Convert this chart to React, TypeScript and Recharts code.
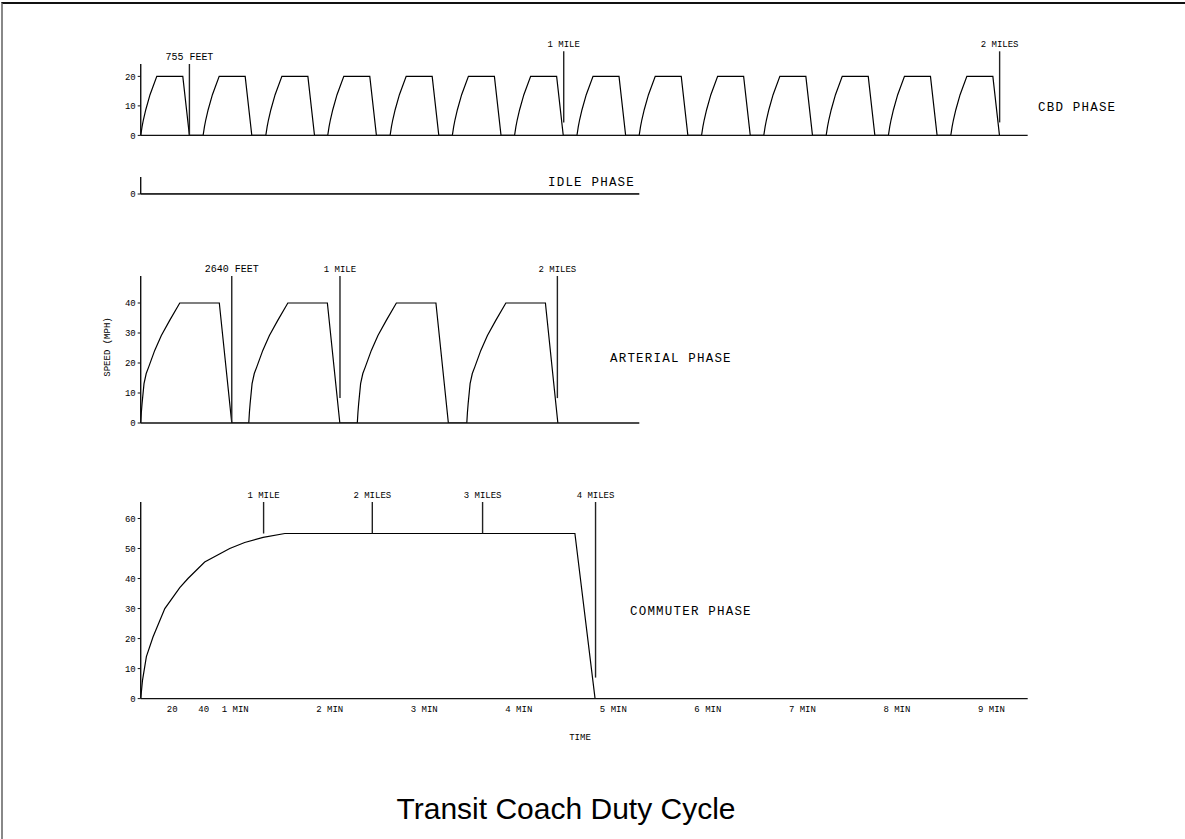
import { LineChart, Line, XAxis, YAxis, ReferenceLine } from 'recharts'

const PAGE_W = 1185
const PAGE_H = 839
const AXIS_X = 140.7
const FONT = '"Liberation Mono", "DejaVu Sans Mono", monospace'

// CBD phase: 14 stop-and-go cycles, 0-20 mph
const cbdStarts = [0, 39.6, 79.4, 118.7, 158.3, 197.8, 237.3, 276.9, 316.4, 356.0, 395.5, 435.1, 474.6, 514.2]
const cbdCycleTime = [0, 0.85, 1.7, 3.2, 5.9, 10.2, 26.7, 30.9]
const cbdCycleSpeed = [0, 3, 5.3, 8.7, 13.8, 20, 20, 0]
const cbdTicks = [0, 10, 20]
const cbdMarkerLabels = ['755 FEET', '1 MILE', '2 MILES']
const cbdMarkerTime = [30.9, 268.5, 545.2]
const cbdMarkerFrom = [0, 4.4, 4.4]
const cbdMarkerTo = [24.2, 28.5, 28.5]

// idle phase
const idleTime = [0, 316.5]
const idleSpeed = [0, 0]
const idleTicks = [0]

// arterial phase: 4 cycles, 0-40 mph
const arterialStarts = [0, 68.6, 137.5, 207.0]
const arterialCycleTime = [0, 0.4, 0.85, 2.1, 3.5, 5.1, 8.9, 13.1, 18.4, 24.8, 49.9, 57.8]
const arterialCycleSpeed = [0, 3.5, 6.4, 13.1, 16.5, 18.7, 24.2, 29.2, 34.2, 40, 40, 0]
const arterialTicks = [0, 10, 20, 30, 40]
const arterialMarkerLabels = ['2640 FEET', '1 MILE', '2 MILES']
const arterialMarkerTime = [57.8, 126.5, 264.5]
const arterialMarkerFrom = [0, 8.3, 8.3]
const arterialMarkerTo = [49, 49, 49]

// commuter phase: single run to 55 mph
const commuterTime = [0, 1.1, 3.6, 7.8, 15.3, 24.8, 30, 40.6, 56.5, 66, 77.7, 91.5, 275.6, 288.4]
const commuterSpeed = [0, 6, 14, 20.5, 30, 37, 40, 45.5, 50, 52, 53.7, 55, 55, 0]
const commuterTicks = [0, 10, 20, 30, 40, 50, 60]
const commuterMarkerLabels = ['1 MILE', '2 MILES', '3 MILES', '4 MILES']
const commuterMarkerTime = [78, 147, 217, 288.7]
const commuterMarkerFrom = [55, 55, 55, 7]
const commuterMarkerTo = [65.5, 65.5, 65.5, 65.5]

// time axis (seconds)
const timeTicks = [20, 40, 60, 120, 180, 240, 300, 360, 420, 480, 540]
const timeTickLabels = ['20', '40', '1 MIN', '2 MIN', '3 MIN', '4 MIN', '5 MIN', '6 MIN', '7 MIN', '8 MIN', '9 MIN']

type Pt = { t: number; v: number }
type Marker = { label: string; t: number; from: number; to: number }

function zip(ts: number[], vs: number[]): Pt[] {
  return ts.map((t, i) => ({ t, v: vs[i] }))
}

function cycles(starts: number[], ts: number[], vs: number[]): Pt[] {
  const out: Pt[] = []
  starts.forEach((s) => ts.forEach((dt, i) => out.push({ t: +(s + dt).toFixed(2), v: vs[i] })))
  return out
}

function markers(labels: string[], at: number[], from: number[], to: number[]): Marker[] {
  return labels.map((label, i) => ({ label, t: at[i], from: from[i], to: to[i] }))
}

interface PhaseProps {
  data: Pt[]
  marks: Marker[]
  xMax: number
  yMax: number
  yTicks: number[]
  plotTop: number
  plotBottom: number
  plotRight: number
  xTicks?: number[]
  xTickLabels?: string[]
}

function PhaseChart({ data, marks, xMax, yMax, yTicks, plotTop, plotBottom, plotRight, xTicks, xTickLabels }: PhaseProps) {
  const padTop = 40
  const axisH = 24
  const height = padTop + (plotBottom - plotTop) + axisH
  const axisStyle = { stroke: '#111', strokeWidth: 1.4 }
  return (
    <div style={{ position: 'absolute', left: 0, top: plotTop - padTop }}>
      <LineChart
        width={PAGE_W}
        height={height}
        data={data}
        margin={{ top: padTop, right: PAGE_W - plotRight, bottom: 0, left: 0 }}
      >
        <XAxis
          type="number"
          dataKey="t"
          domain={[0, xMax]}
          allowDataOverflow
          ticks={xTicks ?? []}
          interval={0}
          tick={xTicks ? { fontSize: 9, fill: '#000', fontFamily: FONT } : false}
          tickFormatter={(v) => (xTicks && xTickLabels ? xTickLabels[xTicks.indexOf(v)] : '')}
          tickLine={false}
          tickMargin={1}
          height={axisH}
          axisLine={axisStyle}
        />
        <YAxis
          type="number"
          domain={[0, yMax]}
          allowDataOverflow
          ticks={yTicks}
          interval={0}
          width={AXIS_X}
          tickSize={3}
          tickMargin={2}
          tick={{ fontSize: 9, fill: '#000', fontFamily: FONT }}
          tickLine={{ stroke: '#111' }}
          axisLine={axisStyle}
        />
        <Line type="linear" dataKey="v" stroke="#000" strokeWidth={1.2} dot={false} isAnimationActive={false} />
        {marks.map((m) => (
          <ReferenceLine
            key={m.label}
            segment={[
              { x: m.t, y: m.from },
              { x: m.t, y: m.to },
            ]}
            stroke="#222"
            strokeWidth={1.4}
            ifOverflow="visible"
            label={{
              value: m.label,
              position: 'top',
              offset: 4,
              fontSize: m.label.includes('FEET') ? 10 : 9,
              fill: '#000',
              fontFamily: FONT,
            }}
          />
        ))}
      </LineChart>
    </div>
  )
}

const phaseText = { fontFamily: FONT, fontSize: 12.5, letterSpacing: 1.2, fill: '#000' }

export default function App() {
  return (
    <div style={{ position: 'absolute', left: 0, top: 0, width: PAGE_W, height: PAGE_H, background: '#fff', overflow: 'hidden' }}>
      <div
        style={{
          position: 'absolute',
          left: 1,
          top: 2,
          width: PAGE_W + 20,
          height: PAGE_H + 20,
          borderLeft: '2px solid #888',
          borderTop: '2px solid #111',
        }}
      />
      <PhaseChart
        data={cycles(cbdStarts, cbdCycleTime, cbdCycleSpeed)}
        marks={markers(cbdMarkerLabels, cbdMarkerTime, cbdMarkerFrom, cbdMarkerTo)}
        xMax={563}
        yMax={24.2}
        yTicks={cbdTicks}
        plotTop={64.3}
        plotBottom={135.7}
        plotRight={1027.7}
      />
      <PhaseChart
        data={zip(idleTime, idleSpeed)}
        marks={[]}
        xMax={316.5}
        yMax={1}
        yTicks={idleTicks}
        plotTop={177.3}
        plotBottom={194.3}
        plotRight={639.3}
      />
      <PhaseChart
        data={cycles(arterialStarts, arterialCycleTime, arterialCycleSpeed)}
        marks={markers(arterialMarkerLabels, arterialMarkerTime, arterialMarkerFrom, arterialMarkerTo)}
        xMax={316.5}
        yMax={49}
        yTicks={arterialTicks}
        plotTop={275.7}
        plotBottom={422.7}
        plotRight={639.3}
      />
      <PhaseChart
        data={zip(commuterTime, commuterSpeed)}
        marks={markers(commuterMarkerLabels, commuterMarkerTime, commuterMarkerFrom, commuterMarkerTo)}
        xMax={563}
        yMax={65.5}
        yTicks={commuterTicks}
        plotTop={501.7}
        plotBottom={698.3}
        plotRight={1027.7}
        xTicks={timeTicks}
        xTickLabels={timeTickLabels}
      />
      <svg width={PAGE_W} height={PAGE_H} style={{ position: 'absolute', left: 0, top: 0, pointerEvents: 'none' }}>
        <text x={1038} y={108} dominantBaseline="central" style={phaseText}>CBD PHASE</text>
        <text x={548} y={183} dominantBaseline="central" style={phaseText}>IDLE PHASE</text>
        <text x={610} y={359} dominantBaseline="central" style={phaseText}>ARTERIAL PHASE</text>
        <text x={630} y={612} dominantBaseline="central" style={phaseText}>COMMUTER PHASE</text>
        <text
          x={108}
          y={347}
          textAnchor="middle"
          dominantBaseline="central"
          transform="rotate(-90 108 347)"
          style={{ fontFamily: FONT, fontSize: 9, fill: '#000' }}
        >
          SPEED (MPH)
        </text>
        <text x={580} y={738} textAnchor="middle" dominantBaseline="central" style={{ fontFamily: FONT, fontSize: 9, fill: '#000' }}>
          TIME
        </text>
        <text
          x={566}
          y={819}
          textAnchor="middle"
          style={{ fontFamily: '"Liberation Sans", Arial, sans-serif', fontSize: 30, fill: '#000' }}
        >
          Transit Coach Duty Cycle
        </text>
      </svg>
    </div>
  )
}
